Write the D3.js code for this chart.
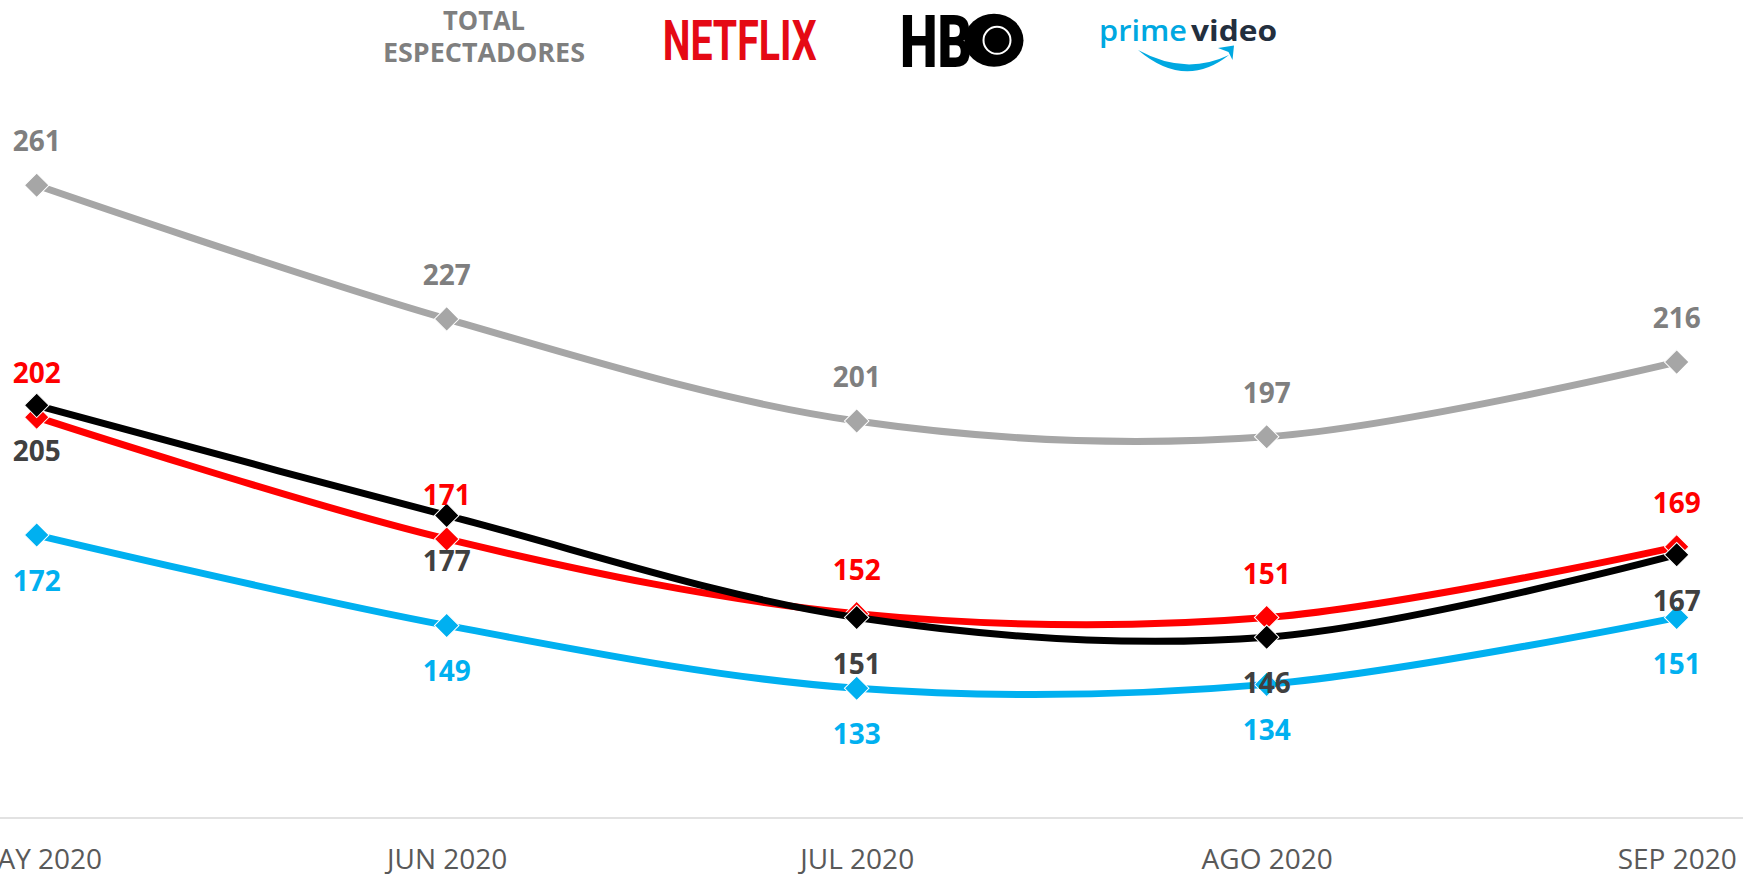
<!DOCTYPE html>
<html>
<head>
<meta charset="utf-8">
<script src="https://cdn.jsdelivr.net/npm/d3@7"></script>
<style>
  body { margin: 0; background: #fff; }
  svg { display: block; font-family: "Open Sans", "Noto Sans", sans-serif; }
</style>
</head>
<body>
<div id="chart"></div>
<script>
// months on the x axis
const months = ["MAY 2020", "JUN 2020", "JUL 2020", "AGO 2020", "SEP 2020"];

// viewers per platform
const totalValues   = [261, 227, 201, 197, 216];
const netflixValues = [202, 171, 152, 151, 169];
const hboValues     = [205, 177, 151, 146, 167];
const primeValues   = [172, 149, 133, 134, 151];

// draw order: hbo last so it sits on top of netflix
const series = [
  { key: "total",   values: totalValues,   line: "#a6a6a6", label: "#7f7f7f", pos: "above" },
  { key: "prime",   values: primeValues,   line: "#00b0f0", label: "#00b0f0", pos: "below" },
  { key: "netflix", values: netflixValues, line: "#ff0000", label: "#ff0000", pos: "above" },
  { key: "hbo",     values: hboValues,     line: "#000000", label: "#404040", pos: "below" }
];

const width = 1743;
const height = 876;

const svg = d3.select("#chart")
  .append("svg")
  .attr("width", width)
  .attr("height", height);

const x = d3.scalePoint()
  .domain(months)
  .range([36.7, 1676.7]);

const y = d3.scaleLinear()
  .domain([100, 300])
  .range([818, 32]);

// baseline of the category axis
svg.append("line")
  .attr("x1", 0)
  .attr("x2", width)
  .attr("y1", y(100))
  .attr("y2", y(100))
  .attr("stroke", "#d9d9d9")
  .attr("stroke-width", 1.5);

const xAxis = svg.append("g")
  .attr("transform", `translate(0,${y(100)})`)
  .call(d3.axisBottom(x).tickSize(0).tickPadding(0));
xAxis.select(".domain").remove();
xAxis.selectAll("text")
  .attr("dy", null)
  .attr("y", 50.5)
  .attr("fill", "#595959")
  .style("font-family", "'Open Sans', sans-serif")
  .style("font-size", "28px");

const line = d3.line()
  .x((d, i) => x(months[i]))
  .y(d => y(d))
  .curve(d3.curveCardinal.tension(0));

const diamond = d3.symbol(d3.symbolSquare).size(300);

series.forEach(s => {
  const g = svg.append("g").attr("class", "series " + s.key);

  g.append("path")
    .datum(s.values)
    .attr("d", line)
    .attr("fill", "none")
    .attr("stroke", s.line)
    .attr("stroke-width", 7)
    .attr("stroke-linecap", "round");

  g.selectAll("path.marker")
    .data(s.values)
    .join("path")
    .attr("class", "marker")
    .attr("d", diamond)
    .attr("transform", (d, i) => `translate(${x(months[i])},${y(d)}) rotate(45)`)
    .attr("fill", s.line)
    .attr("stroke", "#fff")
    .attr("stroke-width", 1);
});

// value labels on top of everything
series.forEach(s => {
  svg.append("g")
    .selectAll("text")
    .data(s.values)
    .join("text")
    .attr("x", (d, i) => x(months[i]))
    .attr("y", d => s.pos === "above" ? y(d) - 34 : y(d) + 56)
    .attr("text-anchor", "middle")
    .attr("fill", s.label)
    .style("font-size", "28px")
    .style("font-weight", 700)
    .text(d => d);
});

// legend (logos recreated as text and simple shapes)
const legend = svg.append("g").attr("class", "legend");

const totalTitle = legend.append("text")
  .attr("text-anchor", "middle")
  .attr("fill", "#7f7f7f")
  .style("font-size", "26px")
  .style("font-weight", 700);

totalTitle.append("tspan")
  .attr("x", 484)
  .attr("y", 30)
  .attr("textLength", 82)
  .attr("lengthAdjust", "spacingAndGlyphs")
  .text("TOTAL");

totalTitle.append("tspan")
  .attr("x", 484)
  .attr("y", 61.5)
  .attr("textLength", 202)
  .attr("lengthAdjust", "spacingAndGlyphs")
  .text("ESPECTADORES");

legend.append("text")
  .attr("x", 662.7)
  .attr("y", 60)
  .attr("fill", "#e50914")
  .style("font-family", "Roboto, sans-serif")
  .style("font-size", "56px")
  .style("font-weight", 700)
  .attr("textLength", 154)
  .attr("lengthAdjust", "spacingAndGlyphs")
  .text("NETFLIX");

legend.append("text")
  .attr("x", 900)
  .attr("y", 66.7)
  .attr("fill", "#000")
  .style("font-family", "Roboto, sans-serif")
  .style("font-size", "73px")
  .style("font-weight", 900)
  .attr("textLength", 72)
  .attr("lengthAdjust", "spacingAndGlyphs")
  .text("HB");

legend.append("ellipse")
  .attr("cx", 994)
  .attr("cy", 40.3)
  .attr("rx", 29.5)
  .attr("ry", 26.5)
  .attr("fill", "#000");

legend.append("circle")
  .attr("cx", 997)
  .attr("cy", 40.3)
  .attr("r", 13.5)
  .attr("fill", "none")
  .attr("stroke", "#fff")
  .attr("stroke-width", 2);

legend.append("text")
  .attr("x", 1099)
  .attr("y", 41)
  .attr("fill", "#00a8e1")
  .style("font-size", "29px")
  .style("font-weight", 600)
  .attr("textLength", 88)
  .attr("lengthAdjust", "spacingAndGlyphs")
  .text("prime");

legend.append("text")
  .attr("x", 1191)
  .attr("y", 41)
  .attr("fill", "#232f3e")
  .style("font-size", "29px")
  .style("font-weight", 700)
  .attr("textLength", 86)
  .attr("lengthAdjust", "spacingAndGlyphs")
  .text("video");

// the amazon smile
legend.append("path")
  .attr("d", "M1138,50 Q1185,90 1229,55 Q1185,76 1138,50 Z")
  .attr("fill", "#00a8e1");

legend.append("path")
  .attr("d", "M1218,48 L1234,45.5 L1232.5,60 L1228.5,52 Z")
  .attr("fill", "#00a8e1");
</script>
</body>
</html>
